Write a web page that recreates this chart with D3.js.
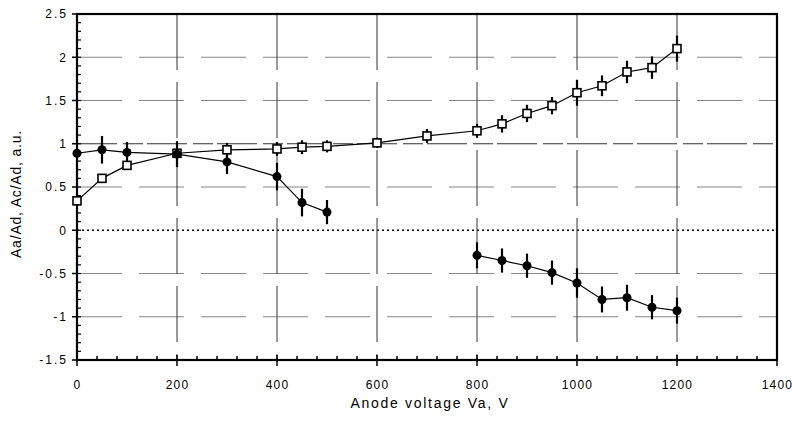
<!DOCTYPE html>
<html>
<head>
<meta charset="utf-8">
<script src="https://cdn.jsdelivr.net/npm/d3@7"></script>
<style>
  body { margin: 0; background: #fff; }
  text { font-family: "Liberation Sans", Arial, sans-serif; fill: #000; }
</style>
</head>
<body>
<div id="chart"></div>
<script>
// Aa/Ad (filled circles)
const voltsA = [0, 50, 100, 200, 300, 400, 450, 500, 800, 850, 900, 950, 1000, 1050, 1100, 1150, 1200];
const ratioA = [0.89, 0.93, 0.9, 0.88, 0.79, 0.62, 0.32, 0.21, -0.29, -0.35, -0.41, -0.49, -0.61, -0.8, -0.78, -0.89, -0.93];
const errA   = [0.0, 0.16, 0.12, 0.15, 0.14, 0.16, 0.16, 0.14, 0.15, 0.14, 0.14, 0.14, 0.17, 0.15, 0.15, 0.14, 0.15];

// Ac/Ad (open squares)
const voltsC = [0, 50, 100, 200, 300, 400, 450, 500, 600, 700, 800, 850, 900, 950, 1000, 1050, 1100, 1150, 1200];
const ratioC = [0.34, 0.6, 0.75, 0.89, 0.93, 0.94, 0.96, 0.97, 1.01, 1.09, 1.15, 1.23, 1.35, 1.44, 1.59, 1.67, 1.83, 1.88, 2.1];
const errC   = [0.0, 0.04, 0.05, 0.06, 0.08, 0.08, 0.08, 0.07, 0.06, 0.08, 0.08, 0.1, 0.1, 0.1, 0.15, 0.12, 0.13, 0.13, 0.15];

const xTicks = [0, 200, 400, 600, 800, 1000, 1200, 1400];
const yTicks = [-1.5, -1, -0.5, 0, 0.5, 1, 1.5, 2, 2.5];

var margin = {top: 14, right: 15, bottom: 66, left: 77},
	width = 792 - margin.left - margin.right,
	height = 426 - margin.top - margin.bottom;

const svg = d3.select("#chart")
	.append("svg")
	.attr("width", 792)
	.attr("height", 426)
	.append("g")
	.attr("transform", "translate(" + margin.left + "," + margin.top + ")");

var x = d3.scaleLinear().domain([0, 1400]).range([0, width]);
var y = d3.scaleLinear().domain([-1.5, 2.5]).range([height, 0]);

// horizontal grid (gray, long dashes)
svg.selectAll("hgrid")
	.data(yTicks.filter(function(d) { return d != 0 && d != 1 && d != -1.5 && d != 2.5; }))
	.enter()
	.append("line")
	.attr("x1", 0).attr("x2", width)
	.attr("y1", function(d) { return y(d); })
	.attr("y2", function(d) { return y(d); })
	.attr("stroke", "#888")
	.attr("stroke-width", 1.1)
	.attr("stroke-dasharray", "45,17");

// y = 1 line, darker dashes
svg.append("line")
	.attr("x1", 0).attr("x2", width)
	.attr("y1", y(1)).attr("y2", y(1))
	.attr("stroke", "#333")
	.attr("stroke-width", 1.1)
	.attr("stroke-dasharray", "40,6,20,4");

// y = 0 dotted line
svg.append("line")
	.attr("x1", 0).attr("x2", width)
	.attr("y1", y(0)).attr("y2", y(0))
	.attr("stroke", "#000")
	.attr("stroke-width", 1.5)
	.attr("stroke-dasharray", "2,3");

// vertical grid
svg.selectAll("vgrid")
	.data(xTicks.filter(function(d) { return d > 0 && d < 1400; }))
	.enter()
	.append("line")
	.attr("x1", function(d) { return x(d); })
	.attr("x2", function(d) { return x(d); })
	.attr("y1", 0).attr("y2", height)
	.attr("stroke", "#333")
	.attr("stroke-width", 1)
	.attr("stroke-dasharray", "56,12");

// axes
var fmt = function(d) { return String(d); };
var xAxis = svg.append("g")
	.attr("transform", "translate(0," + height + ")")
	.call(d3.axisBottom(x).tickValues(xTicks).tickSize(0).tickPadding(20).tickFormat(fmt));
xAxis.select(".domain").remove();
xAxis.selectAll("text")
	.style("font-size", "12px")
	.style("letter-spacing", "1.2px");

var yAxis = svg.append("g")
	.call(d3.axisLeft(y).tickValues(yTicks).tickSize(0).tickPadding(9).tickFormat(fmt));
yAxis.select(".domain").remove();
yAxis.selectAll("text")
	.style("font-size", "12px")
	.style("letter-spacing", "2px");

// minor ticks, pointing inward
svg.selectAll("xminor")
	.data(d3.range(0, 1401, 40))
	.enter()
	.append("line")
	.attr("x1", function(d) { return x(d); })
	.attr("x2", function(d) { return x(d); })
	.attr("y1", height).attr("y2", function(d) { return d % 200 == 0 ? height - 5 : height - 4; })
	.attr("stroke", "#000").attr("stroke-width", 1.5);
svg.selectAll("xmajor")
	.data(xTicks)
	.enter()
	.append("line")
	.attr("x1", function(d) { return x(d); })
	.attr("x2", function(d) { return x(d); })
	.attr("y1", height).attr("y2", height + 6)
	.attr("stroke", "#000").attr("stroke-width", 1.5);
svg.selectAll("yminor")
	.data(d3.range(-15, 26, 1).map(function(d) { return d / 10; }))
	.enter()
	.append("line")
	.attr("x1", 0).attr("x2", 4)
	.attr("y1", function(d) { return y(d); })
	.attr("y2", function(d) { return y(d); })
	.attr("stroke", "#000").attr("stroke-width", 1.2);
svg.selectAll("ymajor")
	.data(yTicks)
	.enter()
	.append("line")
	.attr("x1", -5).attr("x2", 0)
	.attr("y1", function(d) { return y(d); })
	.attr("y2", function(d) { return y(d); })
	.attr("stroke", "#000").attr("stroke-width", 1.5);

// frame
svg.append("rect")
	.attr("x", 0).attr("y", 0)
	.attr("width", width).attr("height", height)
	.attr("fill", "none")
	.attr("stroke", "#000")
	.attr("stroke-width", 2.2);

// series lines
var dataA = voltsA.map(function(v, i) { return {v: v, r: ratioA[i], e: errA[i]}; });
var dataC = voltsC.map(function(v, i) { return {v: v, r: ratioC[i], e: errC[i]}; });

var line = d3.line()
	.x(function(d) { return x(d.v); })
	.y(function(d) { return y(d.r); });

// circles line is broken between 500 and 800
svg.append("path")
	.datum(dataA.filter(function(d) { return d.v <= 500; }))
	.attr("d", line).attr("fill", "none").attr("stroke", "#000").attr("stroke-width", 1.2);
svg.append("path")
	.datum(dataA.filter(function(d) { return d.v >= 800; }))
	.attr("d", line).attr("fill", "none").attr("stroke", "#000").attr("stroke-width", 1.2);
svg.append("path")
	.datum(dataC)
	.attr("d", line).attr("fill", "none").attr("stroke", "#000").attr("stroke-width", 1.2);

// error bars
function errorBars(data) {
	svg.append("g")
		.selectAll("line")
		.data(data.filter(function(d) { return d.e > 0; }))
		.enter()
		.append("line")
		.attr("x1", function(d) { return x(d.v); })
		.attr("x2", function(d) { return x(d.v); })
		.attr("y1", function(d) { return y(d.r - d.e); })
		.attr("y2", function(d) { return y(d.r + d.e); })
		.attr("stroke", "#000")
		.attr("stroke-width", 2.2);
}
errorBars(dataC);
errorBars(dataA);

// squares
svg.append("g")
	.selectAll("rect")
	.data(dataC)
	.enter()
	.append("rect")
	.attr("x", function(d) { return x(d.v) - 4; })
	.attr("y", function(d) { return y(d.r) - 4; })
	.attr("width", 8).attr("height", 8)
	.attr("fill", "#fff")
	.attr("stroke", "#000")
	.attr("stroke-width", 1.6);

// filled circles
svg.append("g")
	.selectAll("circle")
	.data(dataA)
	.enter()
	.append("circle")
	.attr("cx", function(d) { return x(d.v); })
	.attr("cy", function(d) { return y(d.r); })
	.attr("r", 4.5)
	.attr("fill", "#000");

// axis titles
svg.append("text")
	.attr("x", 430 - margin.left)
	.attr("y", 408 - margin.top)
	.attr("text-anchor", "middle")
	.style("font-size", "14px")
	.style("letter-spacing", "1.7px")
	.text("Anode voltage Va, V");

svg.append("text")
	.attr("transform", "translate(" + (21 - margin.left) + "," + (194 - margin.top) + ") rotate(-90)")
	.attr("x", 0)
	.attr("y", 0)
	.attr("text-anchor", "middle")
	.style("font-size", "14px")
	.style("letter-spacing", "0.8px")
	.text("Aa/Ad, Ac/Ad, a.u.");
</script>
</body>
</html>
